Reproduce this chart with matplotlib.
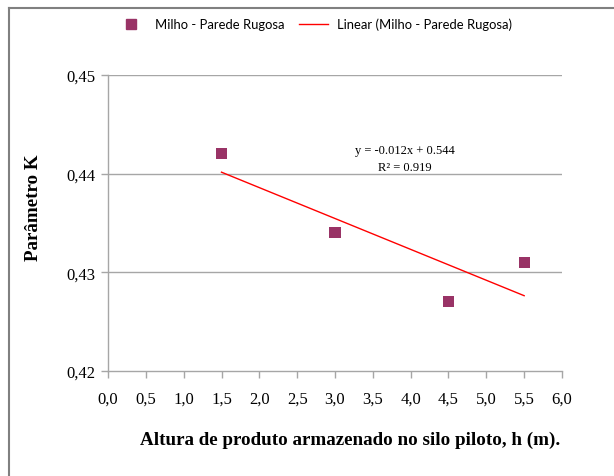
import numpy as np
import matplotlib
matplotlib.use("Agg")
from matplotlib import pyplot as plt
from matplotlib.lines import Line2D

# Altura do produto (m) e parametro K medido
altura = [1.5, 3.0, 4.5, 5.5]
param_k = [0.442, 0.434, 0.427, 0.431]

x_ticks = np.arange(0, 6.01, 0.5)
y_ticks = [0.42, 0.43, 0.44, 0.45]

serie_nome = "Milho - Parede Rugosa"
eq_texto = "y = -0.012x + 0.544"
r2_texto = "R² = 0.919"

grid_color = "#a6a6a6"
marker_color = "#993366"

fig = plt.figure(figsize=(6.14, 4.77), dpi=100)
ax = fig.add_axes([0.1759, 0.2201, 0.7394, 0.6206])

# linha de tendencia (minimos quadrados) sobre o intervalo dos dados
coef = np.polyfit(altura, param_k, 1)
xs = np.array([min(altura), max(altura)])
ax.plot(xs, np.polyval(coef, xs), color="#ff0000", lw=1.0, zorder=3)

ax.scatter(altura, param_k, marker="s", s=64, color=marker_color,
           edgecolors="none", zorder=4)

ax.set_xlim(0, 6)
ax.set_ylim(0.42, 0.45)
ax.set_xticks(x_ticks)
ax.set_xticklabels([f"{v:.1f}".replace(".", ",") for v in x_ticks],
                   family="Liberation Serif", fontsize=12)
ax.set_yticks(y_ticks)
ax.set_yticklabels([f"{v:.2f}".replace(".", ",") for v in y_ticks],
                   family="Liberation Serif", fontsize=12)

for v in y_ticks[1:]:
    ax.axhline(v, color=grid_color, lw=1.0, zorder=1)

for side in ("top", "right"):
    ax.spines[side].set_visible(False)
for side in ("left", "bottom"):
    ax.spines[side].set_color(grid_color)
    ax.spines[side].set_linewidth(1.0)
ax.tick_params(axis="both", direction="out", length=5, width=1.0,
               color=grid_color)
ax.tick_params(axis="y", pad=4)
ax.tick_params(axis="x", pad=9)

# rotulos dos eixos
fig.text(0.57, 1 - 440 / 477, "Altura de produto armazenado no silo piloto, h (m).",
         ha="center", va="center", family="Liberation Serif",
         fontweight="bold", fontsize=13.7)
fig.text(33 / 614, 1 - 208 / 477, "Parâmetro K", rotation=90,
         ha="center", va="center", family="Liberation Serif",
         fontweight="bold", fontsize=13.7)

ax.text(0.654, 0.745, eq_texto, transform=ax.transAxes, ha="center",
        va="center", family="Liberation Serif", fontsize=9)
ax.text(0.654, 0.688, r2_texto, transform=ax.transAxes, ha="center",
        va="center", family="Liberation Serif", fontsize=9)

handles = [
    Line2D([], [], marker="s", ls="none", color=marker_color, markersize=7),
    Line2D([], [], color="#ff0000", lw=1.0),
]
fig.legend(handles, [serie_nome, f"Linear ({serie_nome})"], ncol=2,
           loc="center", bbox_to_anchor=(0.512, 0.948), frameon=False,
           prop={"family": "Lato", "size": 9.4}, handlelength=2.2,
           handletextpad=0.7, columnspacing=1.1)

# moldura externa (so topo e lado esquerdo)
fig.add_artist(Line2D([0.0147, 1.0], [0.981, 0.981], color="#808080",
                      lw=1.5, transform=fig.transFigure))
fig.add_artist(Line2D([0.0147, 0.0147], [0.0, 0.981], color="#808080",
                      lw=1.5, transform=fig.transFigure))

fig.savefig("out.png", dpi=100)
